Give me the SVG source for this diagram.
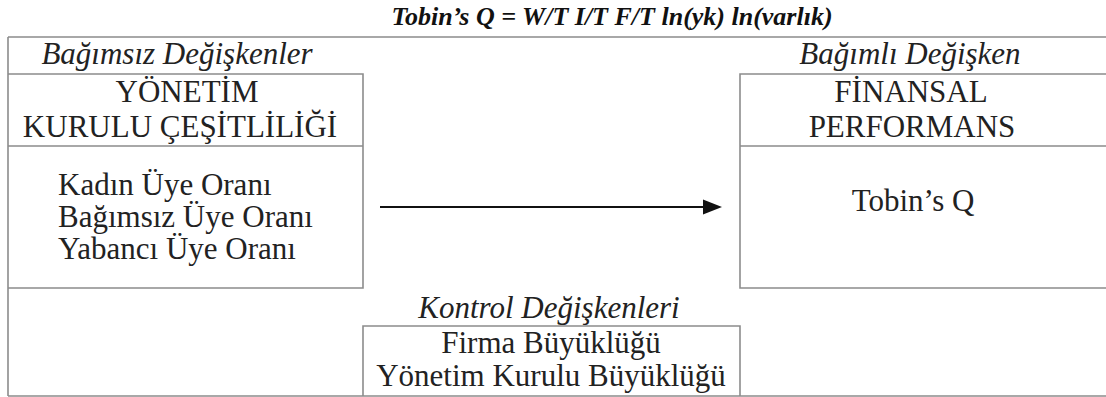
<svg xmlns="http://www.w3.org/2000/svg" width="1106" height="397" viewBox="0 0 1106 397">
<style>
.ln{stroke:#8c8c8c;stroke-width:1.6;fill:none}
.t{font-family:'Liberation Serif','Times New Roman',serif;font-size:31px;fill:#222}
.i{font-style:italic}
.c{text-anchor:middle}
.ttl{font-family:'Liberation Serif','Times New Roman',serif;font-size:26px;font-weight:bold;font-style:italic;fill:#111;text-anchor:middle}
</style>
<rect width="1106" height="397" fill="#fff"/>
<g id="frame">
<path class="ln" d="M8 37H1106M8 37V396M8 396H1106"/>
<text class="ttl" x="612" y="25">Tobin’s Q = W/T I/T F/T ln(yk) ln(varlık)</text>
</g>
<g id="bagimsiz">
<text class="t i c" x="177" y="64">Bağımsız Değişkenler</text>
<path class="ln" d="M8 74H363V288H8M8 146H363"/>
<text class="t c" x="187" y="102">YÖNETİM</text>
<text class="t c" x="180" y="137">KURULU ÇEŞİTLİLİĞİ</text>
<text class="t" x="58" y="195">Kadın Üye Oranı</text>
<text class="t" x="58" y="227">Bağımsız Üye Oranı</text>
<text class="t" x="58" y="259">Yabancı Üye Oranı</text>
</g>
<g id="bagimli">
<text class="t i c" x="910" y="64">Bağımlı Değişken</text>
<path class="ln" d="M1106 74H740V288H1106M740 146H1106"/>
<text class="t c" x="911" y="102">FİNANSAL</text>
<text class="t c" x="912" y="137">PERFORMANS</text>
<text class="t c" x="913" y="211">Tobin’s Q</text>
</g>
<g id="kontrol">
<text class="t i c" x="549" y="318">Kontrol Değişkenleri</text>
<path class="ln" d="M363 396V326H740V396"/>
<text class="t c" x="551" y="353">Firma Büyüklüğü</text>
<text class="t c" x="551" y="386">Yönetim Kurulu Büyüklüğü</text>
</g>
<g id="connectors">
<line x1="380" y1="207" x2="706" y2="207" stroke="#111" stroke-width="2.2"/>
<polygon points="703,199.5 722,207 703,214.5" fill="#111"/>
</g>
</svg>
